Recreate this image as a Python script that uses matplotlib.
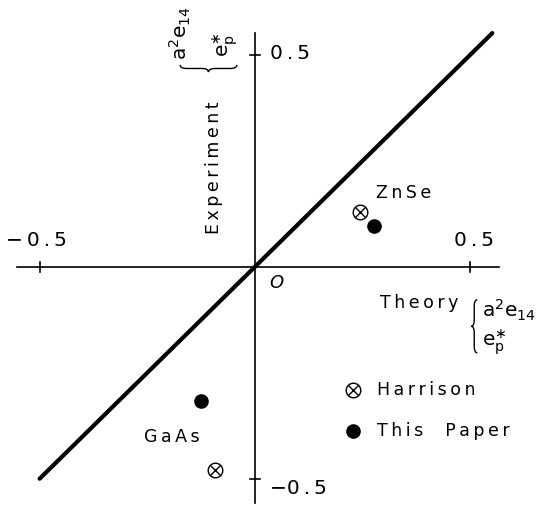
import matplotlib
matplotlib.use("Agg")
from matplotlib import pyplot as plt
from matplotlib.path import Path
from matplotlib.patches import PathPatch

plt.rcParams["font.family"] = "DejaVu Sans"
plt.rcParams["mathtext.fontset"] = "dejavusans"

# piezoelectric coupling: theory (x) vs experiment (y)
materials = ["ZnSe", "GaAs"]
harrison_theory = [0.244, -0.092]
harrison_expt = [0.130, -0.480]
paper_theory = [0.277, -0.125]
paper_expt = [0.096, -0.316]

tick_values = [-0.5, 0.5]
tick_labels = ["\u22120.5", "0.5"]
diagonal = [-0.5, 0.551]

TS = "\u2009"  # thin space for lettering


def spaced(s):
    return TS.join(s)


def draw_brace(ax, a, b0, b1, depth, vertical=True, lw=1.0):
    # curly brace from b0 to b1 along one axis, tip pointing by -depth
    mid = (b0 + b1) / 2
    r = (b1 - b0) * 0.12
    m = a - depth / 2
    t = a - depth
    pts = [(a, b1), (m, b1), (m, b1 - r),
           (m, mid + r), (m, mid), (t, mid),
           (m, mid), (m, mid - r),
           (m, b0 + r), (m, b0), (a, b0)]
    codes = [Path.MOVETO, Path.CURVE3, Path.CURVE3,
             Path.LINETO, Path.CURVE3, Path.CURVE3,
             Path.CURVE3, Path.CURVE3,
             Path.LINETO, Path.CURVE3, Path.CURVE3]
    if not vertical:
        pts = [(p[1], p[0]) for p in pts]
    ax.add_patch(PathPatch(Path(pts, codes), fill=False, lw=lw, color="black"))


fig = plt.figure(figsize=(5.41, 5.08), dpi=100)
ax = fig.add_axes([0, 0, 1, 1])
ax.set_xlim(-0.592, 0.664)
ax.set_ylim(-0.569, 0.629)
ax.axis("off")

# axes through the origin
ax.plot([-0.552, 0.566], [0, 0], color="black", lw=1.2)
ax.plot([0, 0], [-0.557, 0.55], color="black", lw=1.2)
for v in tick_values:
    ax.plot([v, v], [-0.012, 0.012], color="black", lw=1.2)
    ax.plot([-0.012, 0.012], [v, v], color="black", lw=1.2)

ax.plot(diagonal, diagonal, color="black", lw=3.0, solid_capstyle="round")

# Harrison: circled cross, this paper: filled dot
ax.plot(harrison_theory, harrison_expt, "o", ms=10.5, mfc="white", mec="black", mew=1.0)
ax.plot(harrison_theory, harrison_expt, "x", ms=6.5, color="black", mew=1.0)
ax.plot(paper_theory, paper_expt, "o", ms=9.5, color="black")

ax.text(0.345, 0.175, spaced(materials[0]), fontsize=12.5, ha="center", va="center")
ax.text(-0.193, -0.401, spaced(materials[1]), fontsize=12.5, ha="center", va="center")

# tick labels
ax.text(-0.507, 0.061, "\u2212" + TS + spaced("0.5"), fontsize=14.5, ha="center", va="center")
ax.text(0.508, 0.061, spaced("0.5"), fontsize=14.5, ha="center", va="center")
ax.text(0.035, 0.504, spaced("0.5"), fontsize=14.5, ha="left", va="center")
ax.text(0.035, -0.522, "\u2212" + spaced("0.5"), fontsize=14.5, ha="left", va="center")
ax.text(0.05, -0.039, "O", fontsize=13, ha="center", va="center", style="italic")

# axis titles
a2e14 = r"$\mathrm{a}^2\mathrm{e}_{14}$"
ep_star = r"$\mathrm{e}_\mathrm{p}^{\ast}$"
ax.text(0.29, -0.086, spaced("Theory"), fontsize=12.5, ha="left", va="center")
draw_brace(ax, 0.516, -0.203, -0.078, 0.014)
ax.text(0.528, -0.103, a2e14, fontsize=14.5, ha="left", va="center")
ax.text(0.528, -0.178, ep_star, fontsize=14.5, ha="left", va="center")

ax.text(-0.095, 0.233, spaced("Experiment"), fontsize=12.5, ha="center", va="center",
        rotation=90)
draw_brace(ax, 0.476, -0.174, -0.042, 0.017, vertical=False)
ax.text(-0.174, 0.552, a2e14, fontsize=14.5, ha="center", va="center", rotation=90)
ax.text(-0.07, 0.524, ep_star, fontsize=14.5, ha="center", va="center", rotation=90)

# legend
ax.plot([0.227], [-0.291], "o", ms=10.5, mfc="white", mec="black", mew=1.0)
ax.plot([0.227], [-0.291], "x", ms=6.5, color="black", mew=1.0)
ax.plot([0.227], [-0.387], "o", ms=9.5, color="black")
ax.text(0.283, -0.291, spaced("Harrison"), fontsize=12.5, ha="left", va="center")
ax.text(0.283, -0.387, spaced("This") + "    " + spaced("Paper"), fontsize=12.5,
        ha="left", va="center")

fig.savefig("out.png", dpi=100)
